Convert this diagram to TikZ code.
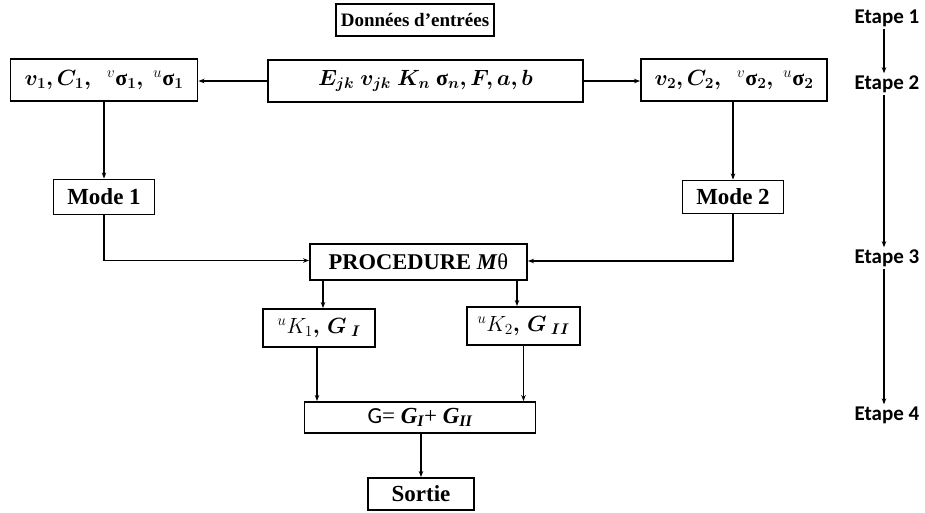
\RequirePackage{fix-cm}
\documentclass[tikz,border=0pt]{standalone}
\usepackage{amsmath,bm}
\usepackage{fontspec}
\setmainfont{Liberation Serif}
\newfontfamily\calib{Carlito}
\newcommand{\bsig}{\text{\bfseries σ}}
\usetikzlibrary{arrows.meta}
\begin{document}
\begin{tikzpicture}[x=1pt,y=-1pt,
  box/.style={draw, line width=1.9pt, inner sep=0pt, align=center},
  conn/.style={line width=1.2pt, -{Stealth[length=6pt,width=4.5pt]}},
  lab/.style={font=\calib\bfseries\fontsize{21}{24}\selectfont, inner sep=2pt},
  bigb/.style={font=\bfseries\fontsize{23}{26}\selectfont},
  mathf/.style={font=\fontsize{22}{26}\selectfont}]
\useasboundingbox (0,0) rectangle (925,512);

\node[box, minimum width=158pt, minimum height=32pt, font=\bfseries\fontsize{19}{22}\selectfont] (don) at (415,20) {Données d’entrées};

\node[box, mathf, minimum width=315pt, minimum height=42pt] (in) at (425.5,81) {$\bm{E_{jk}\; v_{jk}\; K_n}\; \bsig_{\bm{n}}\bm{, F, a, b}$};

\node[box, mathf, minimum width=187pt, minimum height=42pt] (left) at (104,80) {$\bm{v_1, C_1,}\;\; {}^{v}\bsig_{\bm{1}}\bm{,}\; {}^{u}\bsig_{\bm{1}}$};
\node[box, mathf, minimum width=186pt, minimum height=42pt] (right) at (734,80) {$\bm{v_2, C_2,}\;\; {}^{v}\bsig_{\bm{2}}\bm{,}\; {}^{u}\bsig_{\bm{2}}$};

\node[box, bigb, minimum width=101pt, minimum height=35pt] (mode1) at (104,197) {Mode 1};
\node[box, bigb, minimum width=101pt, minimum height=33pt] (mode2) at (733,197) {Mode 2};

\node[box, minimum width=217pt, minimum height=36pt, font=\fontsize{22.5}{26}\selectfont] (proc) at (418.5,262) {\textbf{PROCEDURE \textit{M}}θ};

\node[box, mathf, minimum width=112pt, minimum height=38pt] (uk1) at (319,328) {${}^{u}K_{1}\bm{,\, G}_{\;\bm{I}}$};
\node[box, mathf, minimum width=113pt, minimum height=38pt] (uk2) at (523.5,326) {${}^{u}K_{2}\bm{,\, G}_{\;\bm{II}}$};

\node[box, minimum width=231pt, minimum height=31pt, font=\fontsize{23}{26}\selectfont] (G) at (420,417.5) {{\calib G}= \textbf{\textit{G\textsubscript{I}}}+ \textbf{\textit{G\textsubscript{II}}}};

\node[box, bigb, minimum width=106pt, minimum height=32pt] (sortie) at (421,494) {Sortie};

\node[lab] (e1) at (887,18) {Etape 1};
\node[lab] (e2) at (887,84) {Etape 2};
\node[lab] (e3) at (887,258) {Etape 3};
\node[lab] (e4) at (887,415) {Etape 4};

\draw[conn] (in.west) -- (in.west -| left.east);
\draw[conn] (in.east) -- (in.east -| right.west);
\draw[conn] (left.south) -- (mode1.north);
\draw[conn] (right.south -| mode2.north) -- (mode2.north);
\draw[conn] (mode1.south) |- ([yshift=1.5pt]proc.west);
\draw[conn] (mode2.south) |- ([yshift=1pt]proc.east);
\draw[conn] ([xshift=4pt]uk1.north |- proc.south) -- ([xshift=4pt]uk1.north);
\draw[conn] ([xshift=-6.5pt]uk2.north |- proc.south) -- ([xshift=-6.5pt]uk2.north);
\draw[conn] ([xshift=-2pt]uk1.south) -- ([xshift=-2pt]uk1.south |- G.north);
\draw[conn] (uk2.south) -- (uk2.south |- G.north);
\draw[conn] (G.south -| sortie.north) -- (sortie.north);

\draw[conn] ([xshift=-3pt]e1.south) -- ([xshift=-3pt]e2.north);
\draw[conn] ([xshift=-3pt]e2.south) -- ([xshift=-3pt]e3.north);
\draw[conn] ([xshift=-3pt]e3.south) -- ([xshift=-3pt]e4.north);
\end{tikzpicture}
\end{document}
